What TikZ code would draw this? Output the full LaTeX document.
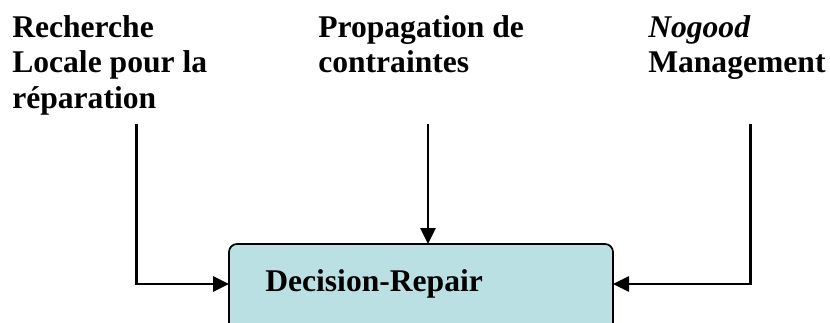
\documentclass[tikz,border=0pt]{standalone}
\usepackage{fontspec}
\setmainfont{Liberation Serif}
\usetikzlibrary{arrows.meta}
\definecolor{boxfill}{RGB}{186,224,228}
\tikzset{
  lbl/.style={anchor=base west, inner sep=0pt, font=\fontsize{23.7}{26}\selectfont\bfseries},
  conn/.style={line width=1.6pt, -{Triangle[length=12pt,width=11.5pt]}},
  mainbox/.style={draw=black, line width=1.3pt, fill=boxfill, rounded corners=6pt}
}
\begin{document}
\begin{tikzpicture}[x=0.75pt,y=-0.75pt]
\clip (0,0) rectangle (830,322);
\fill[white] (0,0) rectangle (830,322);
% box
\draw[mainbox] (229,345) -- (229,244) -- (613,244) -- (613,345);
\coordinate (boxW) at (229,284);
\coordinate (boxN) at (428,244);
\coordinate (boxE) at (613,284);
\node[lbl] (dr) at (265,291) {Decision-Repair};
% labels
\node[lbl] (r1) at (12,37) {Recherche};
\node[lbl] (r2) at (12,72.5) {Locale pour la};
\node[lbl] (r3) at (12,108) {réparation};
\node[lbl] (p1) at (318,37) {Propagation de};
\node[lbl] (p2) at (318,72.5) {contraintes};
\node[lbl] (n1) at (648,37) {\itshape Nogood};
\node[lbl] (n2) at (648,72.5) {Management};
% connector start points
\coordinate (sL) at (136.5,124);
\coordinate (sM) at (428,124);
\coordinate (sR) at (750.5,124);
\draw[conn] (sL) |- (boxW);
\draw[conn] (sM) -- (boxN);
\draw[conn] (sR) |- (boxE);
\end{tikzpicture}
\end{document}
